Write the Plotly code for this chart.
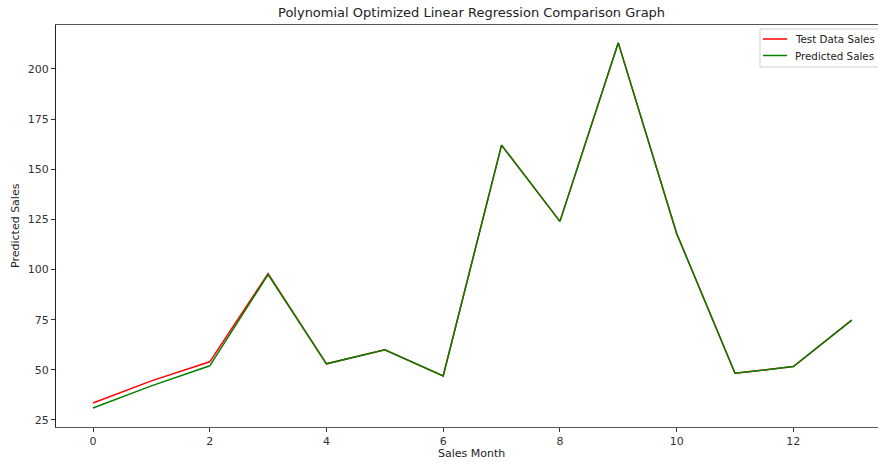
import plotly.graph_objects as go

months = list(range(14))
test_sales = [33.5, 44.5, 54, 98, 53, 60, 47, 162, 124, 213, 118, 48.3, 51.6, 74.8]
pred_sales = [31, 42, 52, 97.5, 53, 60, 47, 162, 124, 213, 118, 48.3, 51.6, 74.8]
x_ticks = [0, 2, 4, 6, 8, 10, 12]
y_ticks = [25, 50, 75, 100, 125, 150, 175, 200]
series_names = ["Test Data Sales", "Predicted Sales"]
series_colors = ["#ff0000", "#008000"]

W, H = 878, 462
L, R, T, B = 56, 0, 25, 35
PW, PH = W - L - R, H - T - B


def px(xp):
    return (xp - L) / PW


def py(yp):
    return 1 - (yp - T) / PH


fig = go.Figure()
for name, vals, col in zip(series_names, [test_sales, pred_sales], series_colors):
    fig.add_trace(go.Scatter(x=months, y=vals, mode="lines", name=name,
                             line=dict(color=col, width=1.5), showlegend=False))

# custom legend (matplotlib-like, running to the right edge)
shapes = [dict(type="rect", xref="paper", yref="paper", x0=px(760), x1=px(890),
               y0=py(67), y1=py(29), line=dict(color="#d0d0d0", width=1),
               fillcolor="white", layer="above")]
annotations = []
for i, (name, col) in enumerate(zip(series_names, series_colors)):
    yy = 39 + i * 16.5
    shapes.append(dict(type="line", xref="paper", yref="paper", x0=px(763), x1=px(787),
                       y0=py(yy), y1=py(yy), line=dict(color=col, width=1.5), layer="above"))
    annotations.append(dict(text=name, xref="paper", yref="paper", x=px(793), y=py(yy),
                            xanchor="left", yanchor="middle", showarrow=False,
                            font=dict(family="DejaVu Sans", size=10.3, color="#222")))

annotations += [
    dict(text="Polynomial Optimized Linear Regression Comparison Graph",
         xref="paper", yref="paper", x=px(471), y=py(13),
         xanchor="center", yanchor="middle", showarrow=False,
         font=dict(family="DejaVu Sans", size=13, color="#222")),
    dict(text="Sales Month", xref="paper", yref="paper",
         x=px(471), y=py(453), xanchor="center", yanchor="middle", showarrow=False,
         font=dict(family="DejaVu Sans", size=11, color="#222")),
    dict(text="Predicted Sales", xref="paper", yref="paper",
         x=px(15), y=0.5, textangle=-90, xanchor="center", yanchor="middle", showarrow=False,
         font=dict(family="DejaVu Sans", size=11, color="#222")),
]

tickfont = dict(family="DejaVu Sans", size=11, color="#333")
fig.update_layout(
    width=W, height=H,
    margin=dict(l=L, r=R, t=T, b=B, autoexpand=False),
    paper_bgcolor="white", plot_bgcolor="white",
    showlegend=False,
    xaxis=dict(range=[-0.634, 13.45], tickvals=x_ticks, ticks="outside", ticklen=4,
               tickcolor="#333", showgrid=False, zeroline=False, showline=True,
               linecolor="#555", linewidth=1, mirror=True, tickfont=tickfont),
    yaxis=dict(range=[21.5, 221.9], tickvals=y_ticks, ticks="outside", ticklen=4,
               tickcolor="#333", showgrid=False, zeroline=False, showline=True,
               linecolor="#222", linewidth=1, mirror=True, tickfont=tickfont),
    shapes=shapes,
    annotations=annotations,
)

fig.write_html("out.html")
